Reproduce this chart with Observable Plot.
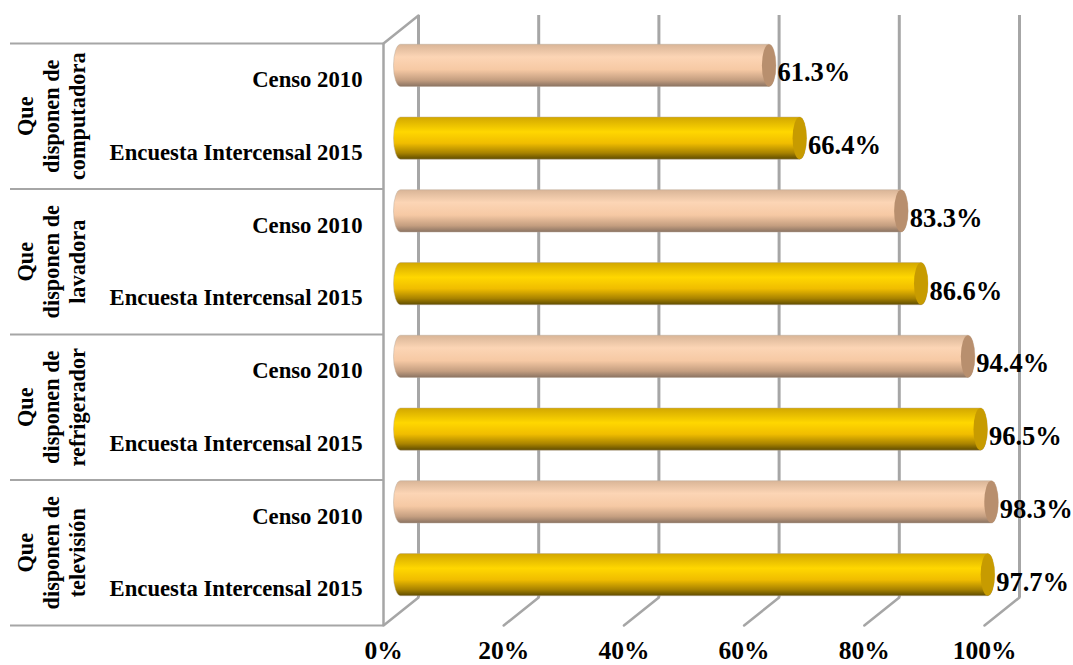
<!DOCTYPE html>
<html><head><meta charset="utf-8">
<script src="https://cdn.jsdelivr.net/npm/d3@7"></script>
<script src="https://cdn.jsdelivr.net/npm/@observablehq/plot@0.6"></script>
<style>html,body{margin:0;padding:0;background:#fff}svg{display:block}</style>
</head><body><div id="chart"></div>
<script>
const groups = ["Que\ndisponen de\ncomputadora","Que\ndisponen de\nlavadora","Que\ndisponen de\nrefrigerador","Que\ndisponen de\ntelevisión"];
const censo2010 = [61.3,83.3,94.4,98.3];
const encuesta2015 = [66.4,86.6,96.5,97.7];
const seriesNames = ["Censo 2010","Encuesta Intercensal 2015"];
const ticks = [0,20,40,60,80,100];

const rows = groups.flatMap((g,i)=>[
  {key:i+"a",group:g,series:seriesNames[0],value:censo2010[i]},
  {key:i+"b",group:g,series:seriesNames[1],value:encuesta2015[i]}
]);
const peach = rows.filter(d=>d.series===seriesNames[0]);
const gold = rows.filter(d=>d.series===seriesNames[1]);
const W=1073,H=665,ml=383,mr=89,mt=43,mb=40;
const pxPerUnit=(W-ml-mr)/100, u=px=>px/pxPerUnit;
const band=(H-mt-mb)/8, gray="#a6a6a6";
const dxBack=35, dyBack=-28, dxBar=17.5, dyBar=-14, capHalf=7;
const font='"Liberation Serif","Times New Roman",serif';
const slant={draw(c,l){c.moveTo(0,0);c.lineTo(0,-l);}};
const angle=Math.atan2(dxBack,-dyBack)*180/Math.PI, slantLen=Math.hypot(dxBack,dyBack);
const bar=(data,fill)=>Plot.barX(data,{y:"key",x1:()=>-u(capHalf),x2:d=>d.value+u(capHalf),fill,rx:capHalf,ry:band*0.29,dx:dxBar,dy:dyBar,stroke:"#b9a997",strokeOpacity:.45,strokeWidth:1});
const cap=(data,fill)=>Plot.barX(data,{y:"key",x1:d=>d.value-u(capHalf),x2:d=>d.value+u(capHalf),fill,rx:capHalf,ry:band*0.29,dx:dxBar,dy:dyBar});

const chart=Plot.plot({
  width:W,height:H,marginLeft:ml,marginRight:mr,marginTop:mt,marginBottom:mb,
  style:{fontFamily:font,color:"#000",background:"#fff"},
  x:{domain:[0,100],range:[ml,W-mr]},
  y:{domain:rows.map(d=>d.key),paddingInner:0.42,paddingOuter:0.21,round:false,axis:null},
  marks:[
    Plot.ruleX(ticks,{dx:dxBack,dy:dyBack,stroke:gray,strokeWidth:3}),
    Plot.vector(ticks,{x:d=>d,frameAnchor:"bottom",anchor:"start",rotate:angle,length:slantLen,shape:slant,stroke:gray,strokeWidth:2.5}),
    Plot.ruleX([0],{stroke:gray,strokeWidth:2.5}),
    Plot.vector([0],{x:d=>d,frameAnchor:"top",anchor:"start",rotate:angle,length:slantLen,shape:slant,stroke:gray,strokeWidth:2.5}),
    Plot.ruleY(peach,{y:"key",x1:u(10-ml),x2:0,dy:-band/2,stroke:gray,strokeWidth:2}),
    Plot.ruleY(gold.slice(-1),{y:"key",x1:u(10-ml),x2:0,dy:band/2,stroke:gray,strokeWidth:2}),
    bar(peach,"url(#cylPeach)"),bar(gold,"url(#cylGold)"),
    cap(peach,"#b88f6e"),cap(gold,"#c79b00"),
    Plot.text(rows,{y:"key",x:0,text:"series",dx:-21,textAnchor:"end",fontSize:22.7,fontWeight:"bold"}),
    Plot.text(rows,{y:"key",x:"value",text:d=>d.value.toFixed(1)+"%",dx:dxBar+capHalf+1,dy:-7,textAnchor:"start",fontSize:26.5,fontWeight:"bold"}),
    Plot.text(peach,{y:"key",x:u(50-ml),text:"group",dy:band/2,rotate:-90,lineHeight:1.17,textAnchor:"middle",fontSize:22.3,fontWeight:"bold"}),
    Plot.axisX({ticks,tickSize:0,tickPadding:15,tickFormat:d=>d+"%",fontSize:25.5,fontWeight:"bold",label:null})
  ]
});
const ns="http://www.w3.org/2000/svg";
const defs=document.createElementNS(ns,"defs");
const grad=(id,stops)=>{const g=document.createElementNS(ns,"linearGradient");g.id=id;g.setAttribute("x1",0);g.setAttribute("y1",0);g.setAttribute("x2",0);g.setAttribute("y2",1);
  stops.forEach(([o,c])=>{const s=document.createElementNS(ns,"stop");s.setAttribute("offset",o);s.setAttribute("stop-color",c);g.appendChild(s)});defs.appendChild(g)};
grad("cylPeach",[[0,"#d9b597"],[.3,"#fcd5b5"],[.6,"#f6c9a4"],[.85,"#c49e80"],[1,"#8a7362"]]);
grad("cylGold",[[0,"#d2a700"],[.35,"#ffd700"],[.62,"#f0bd00"],[.85,"#a98300"],[1,"#5f4c00"]]);
chart.insertBefore(defs,chart.firstChild);
document.getElementById("chart").appendChild(chart);
</script></body></html>
